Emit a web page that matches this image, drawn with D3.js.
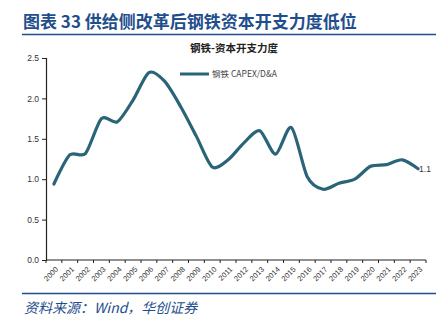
<!DOCTYPE html>
<html><head><meta charset="utf-8">
<script src="https://cdn.jsdelivr.net/npm/d3@7"></script>
<style>
html,body{margin:0;padding:0;background:#fff;}
svg{display:block;}
</style></head>
<body>
<script>
const years = ["2000","2001","2002","2003","2004","2005","2006","2007","2008","2009","2010","2011","2012","2013","2014","2015","2016","2017","2018","2019","2020","2021","2022","2023"];
const capexDA = [0.94,1.30,1.32,1.75,1.71,1.98,2.32,2.21,1.90,1.53,1.15,1.24,1.45,1.60,1.31,1.64,1.03,0.875,0.95,1.00,1.16,1.18,1.24,1.13];
const yTicks = [0,0.5,1.0,1.5,2.0,2.5];
const seriesName = "钢铁 CAPEX/D&A";
const lastLabel = "1.1";

const W=443,H=321;
const svg=d3.select("body").append("svg").attr("width",W).attr("height",H);
const cjk='"Noto Sans CJK SC","Noto Sans",sans-serif';
const blue="#1f4e8c";
const lineColor="#2a6478";

// header
svg.append("text").attr("x",23).attr("y",28).attr("font-family",cjk).attr("font-weight","bold")
  .attr("font-size",17).attr("fill",blue).text("图表 33  供给侧改革后钢铁资本开支力度低位");
svg.append("line").attr("x1",22).attr("x2",436).attr("y1",34.5).attr("y2",34.5).attr("stroke",blue).attr("stroke-width",1.6);
svg.append("line").attr("x1",22).attr("x2",436).attr("y1",293.5).attr("y2",293.5).attr("stroke",blue).attr("stroke-width",1.6);
svg.append("text").attr("x",24).attr("y",313).attr("font-family",cjk).attr("font-style","italic")
  .attr("font-size",14).attr("fill",blue).text("资料来源：Wind，华创证券");

// chart title
svg.append("text").attr("x",234).attr("y",52).attr("text-anchor","middle").attr("font-family",cjk)
  .attr("font-weight","bold").attr("font-size",10.5).attr("fill","#222").text("钢铁-资本开支力度");

const x=d3.scaleBand().domain(years).range([46,426]).padding(0);
const y=d3.scaleLinear().domain([0,2.5]).range([260,58]);

const gy=svg.append("g").attr("transform","translate(46,0)")
  .call(d3.axisLeft(y).tickValues(yTicks).tickFormat(d3.format(".1f")).tickSize(4).tickPadding(3));
gy.select(".domain").attr("stroke","#222").attr("stroke-width",1.2);
gy.selectAll("line").attr("stroke","#222");
gy.selectAll("text").attr("font-family","Liberation Sans, Arial, sans-serif").attr("font-size",8.5).attr("fill","#333");

const gx=svg.append("g").attr("transform","translate(0,260)");
gx.append("line").attr("x1",46).attr("x2",426).attr("stroke","#222").attr("stroke-width",1.2);
const bounds=years.map(d=>x(d)).concat([x(years[years.length-1])+x.bandwidth()]);
gx.selectAll("line.tk").data(bounds).enter().append("line").attr("class","tk")
  .attr("x1",d=>d).attr("x2",d=>d).attr("y1",0).attr("y2",3).attr("stroke","#222");
gx.selectAll("text").data(years).enter().append("text")
  .attr("transform",d=>`translate(${x(d)+x.bandwidth()/2+3},${8}) rotate(-45)`)
  .attr("text-anchor","end").attr("dy","0.35em")
  .attr("font-family","Liberation Sans, Arial, sans-serif").attr("font-size",7.5).attr("fill","#333").text(d=>d);

const line=d3.line().x((d,i)=>x(years[i])+x.bandwidth()/2).y(d=>y(d)).curve(d3.curveCardinal.tension(0.2));
svg.append("path").datum(capexDA).attr("d",line).attr("fill","none").attr("stroke",lineColor)
  .attr("stroke-width",3.2).attr("stroke-linecap","round");

const li=years.length-1;
svg.append("text").attr("x",x(years[li])+x.bandwidth()/2+1).attr("y",y(capexDA[li])).attr("dy","0.35em")
  .attr("font-family","Liberation Sans, Arial, sans-serif").attr("font-size",8.5).attr("fill","#333").text(lastLabel);

// legend
svg.append("line").attr("x1",180).attr("x2",209).attr("y1",74).attr("y2",74).attr("stroke",lineColor).attr("stroke-width",3);
svg.append("text").attr("x",212).attr("y",74).attr("dy","0.35em").attr("font-family",cjk)
  .attr("font-size",8.5).attr("fill","#444").text(seriesName);
</script>
</body></html>
